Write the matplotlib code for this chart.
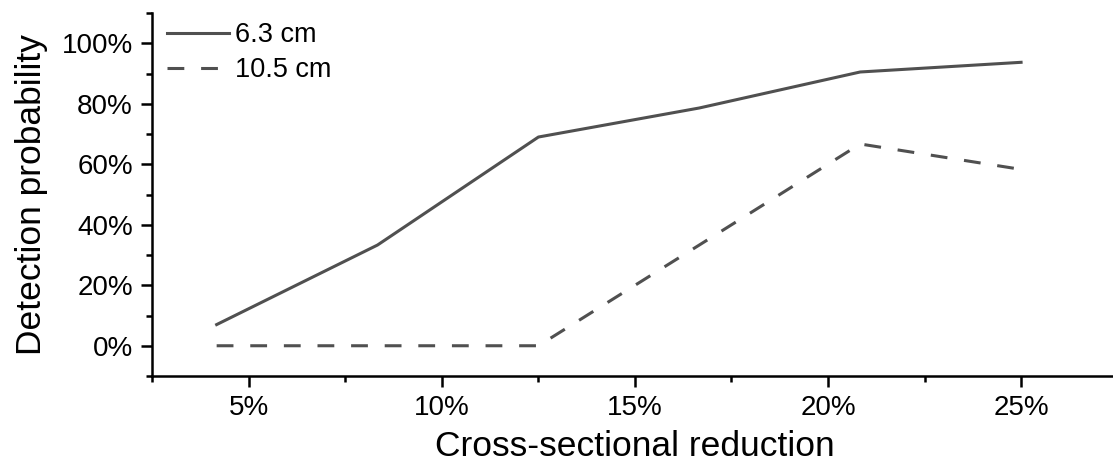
import matplotlib
matplotlib.use("Agg")
import matplotlib.pyplot as plt
from matplotlib.ticker import MultipleLocator, FuncFormatter

plt.rcParams['font.family'] = ['Liberation Sans', 'DejaVu Sans']

# Data
x_reduction = [100/24, 200/24, 300/24, 400/24, 500/24, 600/24]  # percent
labels = ["6.3 cm", "10.5 cm"]
p_63 = [7.0, 33.3, 69.0, 78.6, 90.5, 93.7]
p_105 = [0.0, 0.0, 0.0, 33.3, 66.7, 58.3]

fig = plt.figure(figsize=(11.13, 4.62), dpi=100)
ax = fig.add_axes([152.3/1113, 1-376/462, (1117.6-152.3)/1113, (376-13)/462])

color = "#505050"
ax.plot(x_reduction, p_63, color=color, lw=2.2, label=labels[0])
ax.plot(x_reduction, p_105, color=color, lw=2.2, linestyle=(0, (5.5, 5.5)), label=labels[1])

ax.set_xlim(2.5, 27.5)
ax.set_ylim(-10, 110)
ax.xaxis.set_major_locator(MultipleLocator(5))
ax.xaxis.set_minor_locator(MultipleLocator(2.5))
ax.yaxis.set_minor_locator(MultipleLocator(10))
ax.set_yticks([0, 20, 40, 60, 80, 100])
pct = FuncFormatter(lambda v, p: f"{v:.0f}%")
ax.xaxis.set_major_formatter(pct)
ax.yaxis.set_major_formatter(pct)

for s in ["top", "right"]:
    ax.spines[s].set_visible(False)
for s in ["left", "bottom"]:
    ax.spines[s].set_linewidth(1.8)
ax.tick_params(which="major", length=8, width=1.8, labelsize=20, direction="out", pad=6)
ax.tick_params(which="minor", length=4.5, width=1.8, direction="out")

ax.set_xlabel("Cross-sectional reduction", fontsize=25.5, labelpad=6)
ax.set_ylabel("Detection probability", fontsize=25.5, labelpad=10)

ax.legend(loc="upper left", frameon=False, fontsize=19.5, handlelength=2.3,
          handletextpad=0.2, labelspacing=0.35, borderaxespad=0.0,
          bbox_to_anchor=(0.004, 1.005))

fig.savefig("out.png", dpi=100)
